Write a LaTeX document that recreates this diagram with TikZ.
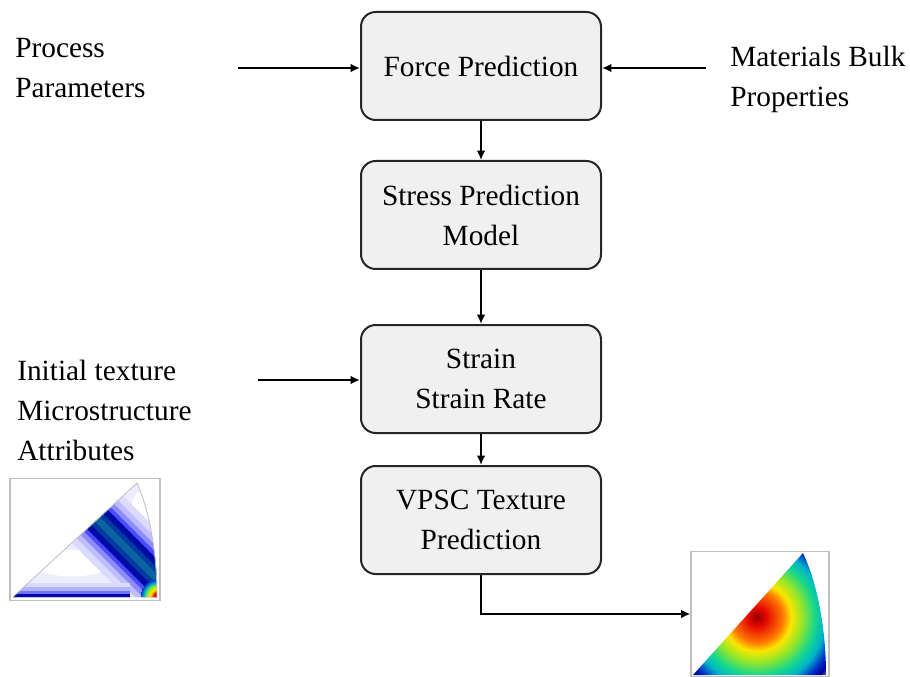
\documentclass[tikz,border=0pt]{standalone}
\usepackage{fontspec}
\setmainfont{Liberation Serif}
\usetikzlibrary{arrows.meta}
\definecolor{boxfill}{RGB}{240,240,240}
\definecolor{jdr}{RGB}{150,0,0}
\definecolor{jred}{RGB}{230,10,0}
\definecolor{jor}{RGB}{255,120,0}
\definecolor{jyel}{RGB}{250,230,0}
\definecolor{jlg}{RGB}{150,230,40}
\definecolor{jteal}{RGB}{20,215,140}
\definecolor{jcy}{RGB}{0,180,200}
\definecolor{jblue}{RGB}{0,40,200}
\definecolor{jdb}{RGB}{0,0,150}
\definecolor{jlav}{RGB}{200,200,240}
\pgfdeclareradialshading{jetR}{\pgfpoint{0bp}{0bp}}{color(0bp)=(jdr); color(2.5bp)=(jred); color(6.5bp)=(jor); color(8.7bp)=(jyel); color(11.5bp)=(jlg); color(14.8bp)=(jteal); color(17.3bp)=(jcy); color(20bp)=(jblue); color(21.7bp)=(jdb); color(24.2bp)=(jlav); color(25bp)=(white)}
\pgfdeclareradialshading{jetS}{\pgfpoint{0bp}{0bp}}{color(0bp)=(jred); color(6bp)=(jred); color(11bp)=(jyel); color(16bp)=(jlg); color(20bp)=(jcy); color(25bp)=(jblue)}
\tikzset{
  px/.style={x=0.75pt,y=-0.75pt},
  stepbox/.style={draw=black!85,line width=1.5pt,fill=boxfill,rounded corners=11pt,
    minimum width=180pt,minimum height=81pt,align=center,inner sep=0pt},
  lbl/.style={align=left,inner sep=0pt,anchor=west},
  arr/.style={line width=1.8pt,-{Latex[length=7pt,width=6.5pt]}},
  frame/.style={draw=black!25,line width=0.8pt,fill=white,inner sep=0pt}
}
\begin{document}
\begin{tikzpicture}[px,font=\fontsize{22}{30}\selectfont]
\useasboundingbox (0,0) rectangle (910,677);
% boxes
\node[stepbox] (force)  at (481,66)  {Force Prediction};
\node[stepbox] (stress) at (481,215) {Stress Prediction\\Model};
\node[stepbox] (strain) at (481,379) {Strain\\Strain Rate};
\node[stepbox] (vpsc)   at (481,520) {VPSC Texture\\Prediction};
% labels
\node[lbl] (proc) at (15,68) {Process\\Parameters};
\node[lbl] (mat) at (730,79) {Materials Bulk\\Properties};
\node[lbl] (init) at (17,410) {Initial texture\\Microstructure\\Attributes};
% arrows
\coordinate (pa) at (238,68);
\coordinate (ma) at (706,68);
\coordinate (ia) at (258,380);
\draw[arr] (pa) -- (pa -| force.west);
\draw[arr] (ma) -- (ma -| force.east);
\draw[arr] (ia) -- (ia -| strain.west);
\draw[arr] (force) -- (stress);
\draw[arr] (stress) -- (strain);
\draw[arr] (strain) -- (vpsc);
% left pole figure
\node[frame,minimum width=112.5pt,minimum height=91.5pt] (pfL) at (85,539.5) {};
\begin{scope}
\clip (13,597) -- (137,483) .. controls (150,512) and (157,555) .. (157,597) -- cycle;
\fill[blue!7] (0,470) rectangle (170,610);
\fill[white] (72,563) ellipse (30pt and 10pt);
\fill[white] (141,510) ellipse (7pt and 14pt);
\foreach \w/\c in {52pt/blue!14,42pt/blue!26,34pt/blue!45,27pt/blue!70,21pt/{rgb,255:red,0;green,10;blue,165},12pt/{rgb,255:red,0;green,60;blue,160},5pt/{rgb,255:red,10;green,100;blue,160}}{
  \draw[line width=\w,color=\c,line cap=round] (88,510) -- (168,590);
}
\foreach \w/\c in {26pt/blue!14,20pt/blue!30,14pt/blue!55,9pt/{rgb,255:red,0;green,10;blue,165}}{
  \draw[line width=\w,color=\c] (0,600) -- (130,600);
}
\shade[shading=jetS] (158,597) circle (18);
\end{scope}
\draw[black!25,line width=0.6pt] (13,597) -- (137,483) .. controls (150,512) and (157,555) .. (157,597);
% right pole figure
\node[frame,minimum width=103.5pt,minimum height=94pt] (pfR) at (760,614) {};
\begin{scope}
\clip (693,675) -- (803,553) .. controls (818,585) and (826,630) .. (826,675) -- cycle;
\shade[shading=jetR] (757,617) circle (98);
\end{scope}
\draw[arr] (vpsc.south) |- (pfR.west);
\end{tikzpicture}
\end{document}
